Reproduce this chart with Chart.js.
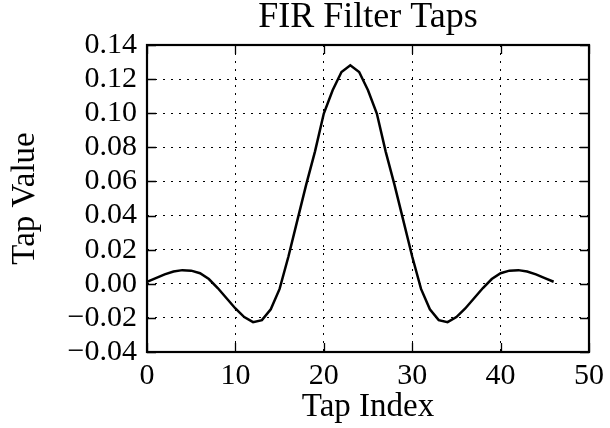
<!DOCTYPE html>
<html>
<head>
<meta charset="utf-8">
<script src="https://cdn.jsdelivr.net/npm/chart.js@4"></script>
<style>
  html, body { margin: 0; padding: 0; background: #fff; }
  #wrap { width: 610px; height: 428px; }
</style>
</head>
<body>
<div id="wrap"><canvas id="myChart" width="610" height="428"></canvas></div>
<script>
// filter tap indices and their coefficients
const tapIndex = [0, 1, 2, 3, 4, 5, 6, 7, 8, 9, 10, 11, 12, 13, 14, 15, 16, 17, 18, 19, 20, 21, 22, 23,
    24, 25, 26, 27, 28, 29, 30, 31, 32, 33, 34, 35, 36, 37, 38, 39, 40, 41, 42, 43, 44, 45, 46];
const tapValue = [0.0012, 0.0033, 0.0055, 0.0072, 0.0080, 0.0077, 0.0062, 0.0028, -0.0025, -0.0085,
    -0.0145, -0.0195, -0.0225, -0.0213, -0.0150, -0.0030, 0.0160, 0.0370, 0.0580, 0.0775,
    0.0998, 0.1135, 0.1242, 0.1281, 0.1242, 0.1135, 0.0998, 0.0775, 0.0580, 0.0370,
    0.0160, -0.0030, -0.0150, -0.0213, -0.0225, -0.0195, -0.0145, -0.0085, -0.0025, 0.0028,
    0.0062, 0.0077, 0.0080, 0.0072, 0.0055, 0.0033, 0.0012];

const xTicks = [0, 10, 20, 30, 40, 50];
const yTicks = [-0.04, -0.02, 0.00, 0.02, 0.04, 0.06, 0.08, 0.10, 0.12, 0.14];

const serif = "'Liberation Serif', 'Times New Roman', serif";

// box around the plot plus tick marks pointing inwards on all four sides
const frame = {
    id: 'frame',
    afterDatasetsDraw(chart) {
        const { ctx, chartArea: a, scales } = chart;
        const len = 9;
        ctx.save();
        ctx.strokeStyle = '#000';
        ctx.lineWidth = 1.3;
        ctx.beginPath();
        xTicks.forEach(v => {
            const px = Math.round(scales.x.getPixelForValue(v)) + 0.5;
            ctx.moveTo(px, a.bottom); ctx.lineTo(px, a.bottom - len);
            ctx.moveTo(px, a.top); ctx.lineTo(px, a.top + len);
        });
        yTicks.forEach(v => {
            const py = Math.round(scales.y.getPixelForValue(v)) + 0.5;
            ctx.moveTo(a.left, py); ctx.lineTo(a.left + len, py);
            ctx.moveTo(a.right, py); ctx.lineTo(a.right - len, py);
        });
        ctx.stroke();
        ctx.lineWidth = 2.2;
        ctx.strokeRect(a.left, a.top, a.right - a.left, a.bottom - a.top);
        ctx.restore();
    }
};

const ctx = document.getElementById('myChart').getContext('2d');

const chart = new Chart(ctx, {
    type: 'line',
    data: {
        datasets: [{
            data: tapIndex.map((t, i) => ({ x: t, y: tapValue[i] })),
            borderColor: '#000',
            borderWidth: 2.5,
            pointRadius: 0,
            tension: 0,
            fill: false
        }]
    },
    options: {
        responsive: false,
        animation: false,
        layout: { padding: { left: 0, right: 16, top: 0, bottom: 0 } },
        scales: {
            x: {
                type: 'linear',
                min: 0,
                max: 50,
                afterBuildTicks: s => { s.ticks = xTicks.map(v => ({ value: v })); },
                afterFit: s => { s.height = 76; },
                grid: { color: '#000', lineWidth: 1, drawTicks: false },
                border: { display: false, dash: [2, 6] },
                ticks: {
                    color: '#000',
                    padding: 6,
                    maxRotation: 0,
                    autoSkip: false,
                    font: { family: serif, size: 30 },
                    callback: v => String(v)
                },
                title: {
                    display: true,
                    text: 'Tap Index',
                    color: '#000',
                    font: { family: serif, size: 33 },
                    padding: { top: 0, bottom: 1 }
                }
            },
            y: {
                type: 'linear',
                min: -0.04,
                max: 0.14,
                afterBuildTicks: s => { s.ticks = yTicks.map(v => ({ value: v })); },
                afterFit: s => { s.width = 147; },
                grid: { color: '#000', lineWidth: 1, drawTicks: false },
                border: { display: false, dash: [2, 6] },
                ticks: {
                    color: '#000',
                    padding: 10,
                    autoSkip: false,
                    font: { family: serif, size: 30, lineHeight: 1.0 },
                    callback: v => v.toFixed(2).replace('-', '\u2212')
                },
                title: {
                    display: true,
                    text: 'Tap Value',
                    color: '#000',
                    font: { family: serif, size: 33 },
                    padding: { top: 6, bottom: 0 }
                }
            }
        },
        plugins: {
            legend: { display: false },
            tooltip: { enabled: false },
            title: {
                display: true,
                fullSize: false,
                text: 'FIR Filter Taps',
                color: '#000',
                font: { family: serif, size: 36, weight: 'normal', lineHeight: 1.0 },
                padding: { top: 0, bottom: 9 }
            }
        }
    },
    plugins: [frame]
});
</script>
</body>
</html>
